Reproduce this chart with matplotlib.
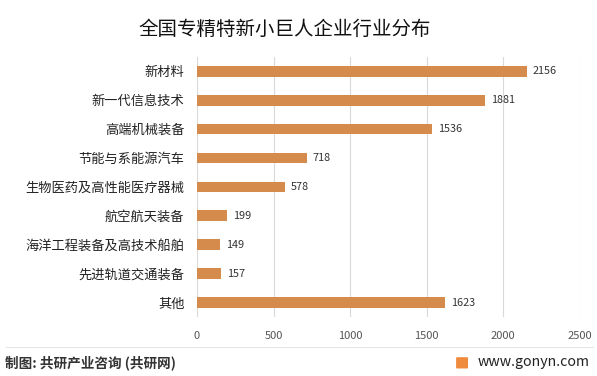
import matplotlib
matplotlib.use('Agg')
import matplotlib.pyplot as plt
from matplotlib.lines import Line2D
from matplotlib.patches import FancyBboxPatch

plt.rcParams['font.family'] = ['Noto Sans CJK SC', 'DejaVu Sans']

categories = ['新材料', '新一代信息技术', '高端机械装备', '节能与系能源汽车', '生物医药及高性能医疗器械',
              '航空航天装备', '海洋工程装备及高技术船舶', '先进轨道交通装备', '其他']
values = [2156, 1881, 1536, 718, 578, 199, 149, 157, 1623]
xticks = [0, 500, 1000, 1500, 2000, 2500]

fig = plt.figure(figsize=(5.97, 3.76), dpi=100)
ax = fig.add_axes([0.330, 0.157, 0.6407, 0.6918])

ypos = list(range(len(categories)))
ax.barh(ypos, values, height=0.37, color='#D48B4C', zorder=3)
for y, v in zip(ypos, values):
    ax.text(v + 38, y, str(v), va='center', ha='left', fontsize=7.8, color='#333333')

ax.set_ylim(len(categories) - 0.5, -0.5)
ax.set_xlim(0, 2500)
ax.set_yticks(ypos)
ax.set_yticklabels(categories, fontsize=9.5, color='#222222')
ax.set_xticks(xticks)
ax.set_xticklabels([str(t) for t in xticks], fontsize=8, color='#555555')
ax.tick_params(axis='y', length=0, pad=9)
ax.tick_params(axis='x', length=0, pad=10)
ax.grid(axis='x', color='#D9D9D9', linewidth=0.8, zorder=0)
for s in ax.spines.values():
    s.set_visible(False)

fig.text(0.477, 0.923, '全国专精特新小巨人企业行业分布', ha='center', va='center', fontsize=14, color='#111111')

fig.add_artist(Line2D([0.01, 0.993], [0.077, 0.077], color='#E6E6E6', linewidth=0.8))
fig.text(0.008, 0.035, '制图: 共研产业咨询 (共研网)', ha='left', va='center', fontsize=9.8,
         color='#333333', fontweight='bold')
fig.add_artist(FancyBboxPatch((0.766, 0.022), 0.016, 0.026, boxstyle='round,pad=0.002',
                              facecolor='#F08A3C', edgecolor='none', transform=fig.transFigure))
fig.text(0.800, 0.037, 'www.gonyn.com', ha='left', va='center', fontsize=10.2, color='#222222')

fig.savefig('out.png', dpi=100)
